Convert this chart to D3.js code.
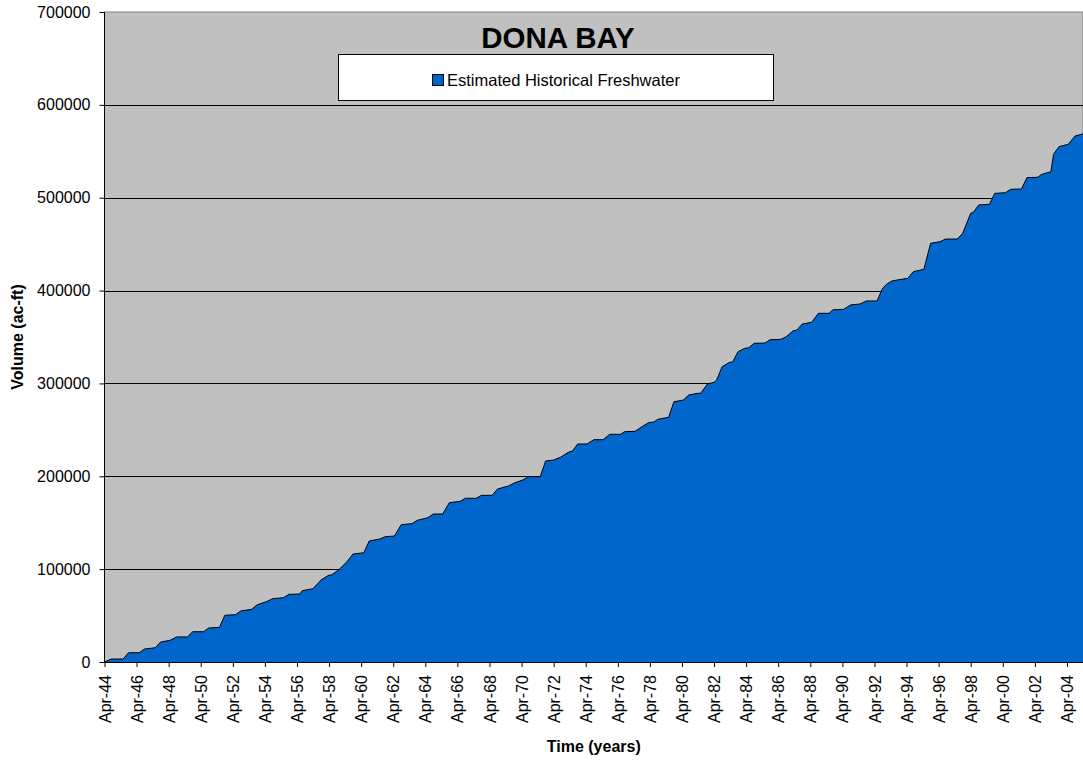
<!DOCTYPE html>
<html>
<head>
<meta charset="utf-8">
<script src="https://cdn.jsdelivr.net/npm/d3@7"></script>
<style>
  html, body { margin: 0; padding: 0; background: #fff; }
  svg { display: block; font-family: "Liberation Sans", Arial, sans-serif; }
</style>
</head>
<body>
<svg id="chart" width="1083" height="761"></svg>
<script>
// cumulative volume at the turning points of each season
var months = [
    '1944-04', '1944-09', '1945-06', '1945-10', '1946-06', '1946-10', '1947-06', '1947-10',
    '1948-05', '1948-10', '1949-06', '1949-10', '1950-06', '1950-10', '1951-06', '1951-10',
    '1952-06', '1952-10', '1953-06', '1953-10', '1954-05', '1954-10', '1955-06', '1955-10',
    '1956-06', '1956-08', '1957-04', '1957-10', '1958-03', '1958-06', '1958-11', '1959-05',
    '1959-10', '1960-06', '1960-10', '1961-06', '1961-10', '1962-05', '1962-10', '1963-06',
    '1963-10', '1964-06', '1964-10', '1965-05', '1965-10', '1966-06', '1966-10', '1967-06',
    '1967-10', '1968-06', '1968-10', '1969-06', '1969-11', '1970-05', '1970-09', '1971-06',
    '1971-10', '1972-04', '1972-09', '1973-03', '1973-06', '1973-10', '1974-05', '1974-10',
    '1975-05', '1975-10', '1976-06', '1976-09', '1977-05', '1977-10', '1978-03', '1978-07',
    '1978-10', '1979-06', '1979-10', '1980-05', '1980-09', '1981-04', '1981-06', '1981-11',
    '1982-04', '1982-06', '1982-10', '1983-03', '1983-06', '1983-10', '1984-03', '1984-06',
    '1984-10', '1985-06', '1985-10', '1986-06', '1986-10', '1987-03', '1987-06', '1987-10',
    '1988-05', '1988-10', '1989-06', '1989-09', '1990-05', '1990-10', '1991-05', '1991-10',
    '1992-06', '1992-10', '1993-01', '1993-05', '1993-09', '1994-05', '1994-09', '1995-05',
    '1995-10', '1996-05', '1996-09', '1997-06', '1997-10', '1998-04', '1998-06', '1998-10',
    '1999-06', '1999-10', '2000-06', '2000-10', '2001-06', '2001-10', '2002-06', '2002-09',
    '2003-04', '2003-06', '2003-10', '2004-05', '2004-10', '2005-03', '2005-04'
];

var volume = [
    0, 3200, 3200, 10000, 10000, 14000, 15400, 21500,
    23300, 27000, 27000, 32600, 32600, 36600, 37300, 50300,
    51000, 55000, 56700, 61400, 65000, 68200, 69300, 72900,
    73200, 76800, 79000, 88300, 92900, 94000, 99000, 107300,
    116300, 117700, 130300, 132500, 135000, 135700, 147900, 149000,
    152600, 155400, 159400, 159400, 171600, 173000, 176300, 176300,
    179500, 179500, 186300, 189500, 193100, 196000, 199600, 199600,
    216500, 217500, 220400, 225800, 227200, 234800, 234800, 239400,
    239400, 245200, 245200, 248000, 248400, 253400, 257700, 258500,
    261400, 263500, 280300, 282100, 287500, 289400, 289400, 299400,
    301200, 303700, 318000, 322300, 323400, 334200, 337800, 338500,
    343200, 343500, 347100, 347500, 350300, 356500, 357500, 364000,
    365800, 375500, 375500, 379400, 379800, 384500, 385500, 388800,
    388800, 402400, 406700, 410300, 411400, 413200, 420300, 422900,
    450900, 452600, 455500, 455500, 461700, 483200, 484300, 492200,
    492900, 504700, 505400, 509100, 509400, 521600, 522000, 525100,
    528000, 546700, 555000, 557500, 566400, 568300, 569000
];

var yTicks = [0, 100000, 200000, 300000, 400000, 500000, 600000, 700000];
var seriesName = 'Estimated Historical Freshwater';
var chartTitle = 'DONA BAY';

var parseMonth = d3.timeParse('%Y-%m');
var data = months.map(function(m, i) {
    return {date: parseMonth(m), value: volume[i]};
});

var svg = d3.select('#chart');
var plot = {left: 104.5, right: 1083, top: 12, bottom: 662};

var x = d3.scaleTime()
    .domain([parseMonth('1944-04'), parseMonth('2005-04')])
    .range([plot.left, plot.right]);

var y = d3.scaleLinear()
    .domain([0, 700000])
    .range([plot.bottom, plot.top]);

// plot background
svg.append('rect')
    .attr('x', plot.left)
    .attr('y', plot.top)
    .attr('width', plot.right - plot.left)
    .attr('height', plot.bottom - plot.top)
    .attr('fill', '#c0c0c0')
    .attr('stroke', '#808080')
    .attr('stroke-width', 1);

// gridlines
svg.append('g')
    .selectAll('line')
    .data(yTicks.filter(function(d) { return d > 0 && d < 700000; }))
    .join('line')
    .attr('x1', plot.left)
    .attr('x2', plot.right)
    .attr('y1', function(d) { return Math.round(y(d)) + 0.5; })
    .attr('y2', function(d) { return Math.round(y(d)) + 0.5; })
    .attr('stroke', '#000')
    .attr('stroke-width', 1);

var area = d3.area()
    .x(function(d) { return x(d.date); })
    .y0(y(0))
    .y1(function(d) { return y(d.value); });

var line = d3.line()
    .x(function(d) { return x(d.date); })
    .y(function(d) { return y(d.value); });

svg.append('path')
    .datum(data)
    .attr('d', area)
    .attr('fill', '#0066cc');

svg.append('path')
    .datum(data)
    .attr('d', line)
    .attr('fill', 'none')
    .attr('stroke', '#000')
    .attr('stroke-width', 1);

// axes
var yAxis = d3.axisLeft(y)
    .tickValues(yTicks)
    .tickFormat(d3.format('d'))
    .tickSize(5)
    .tickPadding(9);

var gY = svg.append('g')
    .attr('transform', 'translate(' + plot.left + ',0)')
    .call(yAxis);

var xTicks = d3.range(1944, 2005, 2).map(function(yr) { return new Date(yr, 3, 1); });
var xAxis = d3.axisBottom(x)
    .tickValues(xTicks)
    .tickFormat(d3.timeFormat('%b-%y'))
    .tickSize(5)
    .tickSizeOuter(0);

var gX = svg.append('g')
    .attr('transform', 'translate(0,' + plot.bottom + ')')
    .call(xAxis);

gX.selectAll('text')
    .attr('transform', 'rotate(-90)')
    .attr('x', -13)
    .attr('y', 0)
    .attr('dy', '0.35em')
    .style('text-anchor', 'end');

[gX, gY].forEach(function(g) {
    g.select('.domain').attr('stroke', '#000');
    g.selectAll('.tick line').attr('stroke', '#000');
    g.selectAll('text')
        .attr('fill', '#000')
        .style('font-size', '16px')
        .style('font-family', '"Liberation Sans", Arial, sans-serif');
});
gY.select('.domain').attr('d', 'M0,' + plot.bottom + 'V' + plot.top);

// axis titles
svg.append('text')
    .attr('transform', 'translate(23,' + (plot.top + plot.bottom) / 2 + ') rotate(-90)')
    .attr('text-anchor', 'middle')
    .style('font-size', '16px')
    .style('font-weight', 'bold')
    .text('Volume (ac-ft)');

svg.append('text')
    .attr('x', (plot.left + plot.right) / 2)
    .attr('y', 752)
    .attr('text-anchor', 'middle')
    .style('font-size', '16px')
    .style('font-weight', 'bold')
    .text('Time (years)');

// title
svg.append('text')
    .attr('x', 558)
    .attr('y', 48)
    .attr('text-anchor', 'middle')
    .style('font-size', '29.5px')
    .style('font-weight', 'bold')
    .text(chartTitle);

// legend
var legend = svg.append('g');
legend.append('rect')
    .attr('x', 338.5)
    .attr('y', 54.5)
    .attr('width', 435)
    .attr('height', 46)
    .attr('fill', '#fff')
    .attr('stroke', '#000');
legend.append('rect')
    .attr('x', 432.5)
    .attr('y', 74.5)
    .attr('width', 11)
    .attr('height', 11)
    .attr('fill', '#0066cc')
    .attr('stroke', '#000');
legend.append('text')
    .attr('x', 447)
    .attr('y', 85.5)
    .style('font-size', '16.5px')
    .text(seriesName);
</script>
</body>
</html>
